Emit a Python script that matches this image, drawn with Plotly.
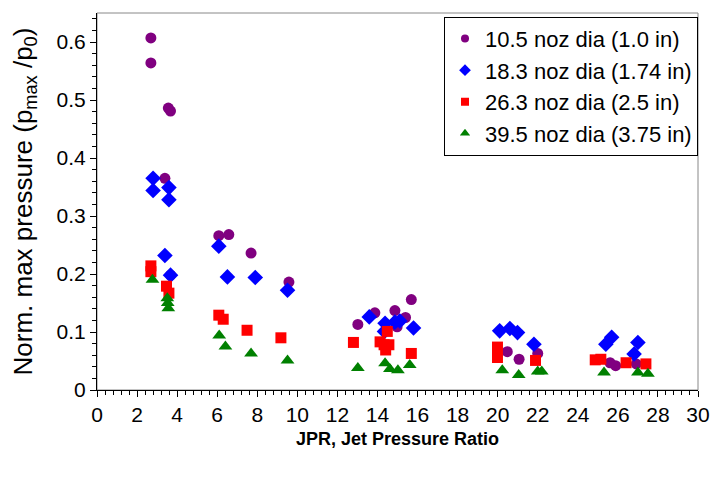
import plotly.graph_objects as go

names = ["10.5 noz dia (1.0 in)", "18.3 noz dia (1.74 in)",
         "26.3 noz dia (2.5 in)", "39.5 noz dia (3.75 in)"]

x_105 = [2.69, 2.69, 3.56, 3.67, 3.39, 3.67, 6.08, 6.58, 7.69, 9.58,
         13.02, 13.87, 14.87, 14.98, 15.40, 15.69, 20.48, 21.07, 22.0,
         25.61, 25.89, 26.92]
y_105 = [0.607, 0.564, 0.486, 0.481, 0.365, 0.198, 0.266, 0.268, 0.236, 0.186,
         0.113, 0.133, 0.137, 0.109, 0.125, 0.156, 0.066, 0.053, 0.063,
         0.047, 0.042, 0.045]

x_183 = [2.80, 2.80, 3.59, 3.59, 3.39, 3.67, 6.08, 6.51, 7.90, 9.51,
         13.59, 14.38, 14.35, 14.87, 15.12, 15.80, 20.10, 20.61, 20.99, 21.81,
         25.40, 25.69, 26.81, 27.0]
y_183 = [0.365, 0.344, 0.349, 0.328, 0.232, 0.198, 0.248, 0.195, 0.194, 0.172,
         0.126, 0.115, 0.101, 0.117, 0.119, 0.107, 0.102, 0.106, 0.099, 0.079,
         0.079, 0.091, 0.062, 0.082]

x_263 = [2.69, 2.69, 3.47, 3.59, 6.08, 6.30, 7.49, 9.18,
         12.80, 14.13, 14.49, 14.33, 14.57, 14.41, 15.69,
         19.99, 19.99, 21.89, 24.87, 25.15, 26.41, 27.40]
y_263 = [0.214, 0.204, 0.179, 0.167, 0.129, 0.122, 0.103, 0.090,
         0.082, 0.083, 0.101, 0.078, 0.078, 0.069, 0.063,
         0.074, 0.056, 0.051, 0.052, 0.053, 0.047, 0.045]

x_395 = [2.77, 3.51, 3.53, 3.56, 6.10, 6.41, 7.69, 9.51,
         13.02, 14.38, 14.62, 15.02, 15.61,
         20.23, 21.05, 22.0, 22.2, 25.31, 27.0, 27.5]
y_395 = [0.190, 0.158, 0.150, 0.141, 0.094, 0.075, 0.063, 0.051,
         0.038, 0.046, 0.036, 0.034, 0.043,
         0.034, 0.026, 0.032, 0.032, 0.030, 0.030, 0.028]

x_title = "<b>JPR, Jet Pressure Ratio</b>"
y_title = "Norm. max pressure (p<sub>max</sub> /p<sub>0</sub>)"

xs = [x_105, x_183, x_263, x_395]
ys = [y_105, y_183, y_263, y_395]
colors = ["#800080", "#0000FF", "#FF0000", "#008000"]
symbols = ["circle", "diamond", "square", "triangle-up"]
sizes = [11, 12, 11, 12]
leg_sizes = [8, 9, 8, 9]

FONT = "Arial, Liberation Sans, sans-serif"

fig = go.Figure()
for i in range(4):
    fig.add_trace(go.Scatter(
        x=xs[i], y=ys[i], mode="markers", name=names[i], showlegend=False,
        marker=dict(color=colors[i], symbol=symbols[i], size=sizes[i],
                    line=dict(width=0))))
for i in range(4):
    fig.add_trace(go.Scatter(
        x=[None], y=[None], mode="markers", name=names[i], showlegend=True,
        marker=dict(color=colors[i], symbol=symbols[i], size=leg_sizes[i],
                    line=dict(width=0))))

fig.add_shape(type="rect", xref="paper", yref="paper", x0=0, y0=0, x1=1, y1=1,
              line=dict(color="#888888", width=1), layer="below")

fig.add_annotation(text=y_title, xref="paper", yref="paper", x=0, y=0.5,
                   xanchor="center", yanchor="middle", xshift=-73, showarrow=False,
                   textangle=-90, font=dict(size=26, family=FONT, color="black"))

fig.update_layout(
    width=722, height=477,
    margin=dict(l=97, r=14, t=13, b=87),
    paper_bgcolor="white", plot_bgcolor="white",
    font=dict(family=FONT, color="black", size=21),
    showlegend=True,
    legend=dict(x=1.0, xanchor="right", y=0.99, yanchor="top",
                bgcolor="white", bordercolor="black", borderwidth=1,
                font=dict(size=22, family=FONT), itemwidth=30,
                tracegroupgap=0),
    xaxis=dict(range=[0, 30], dtick=2, tick0=0, showline=True, linecolor="black",
               linewidth=1, ticks="outside", ticklen=6, tickcolor="black",
               showgrid=False, zeroline=False,
               minor=dict(dtick=0.4, ticks="outside", ticklen=4, tickcolor="black"),
               tickfont=dict(size=21, family=FONT),
               title=dict(text=x_title,
                          font=dict(size=18, family=FONT), standoff=7)),
    yaxis=dict(range=[0, 0.65], dtick=0.1, tick0=0, showline=True, linecolor="black",
               linewidth=1, ticks="outside", ticklen=6, tickcolor="black",
               showgrid=False, zeroline=False,
               minor=dict(dtick=0.02, ticks="outside", ticklen=4, tickcolor="black"),
               tickfont=dict(size=21, family=FONT)),
)

fig.write_html("out.html")
